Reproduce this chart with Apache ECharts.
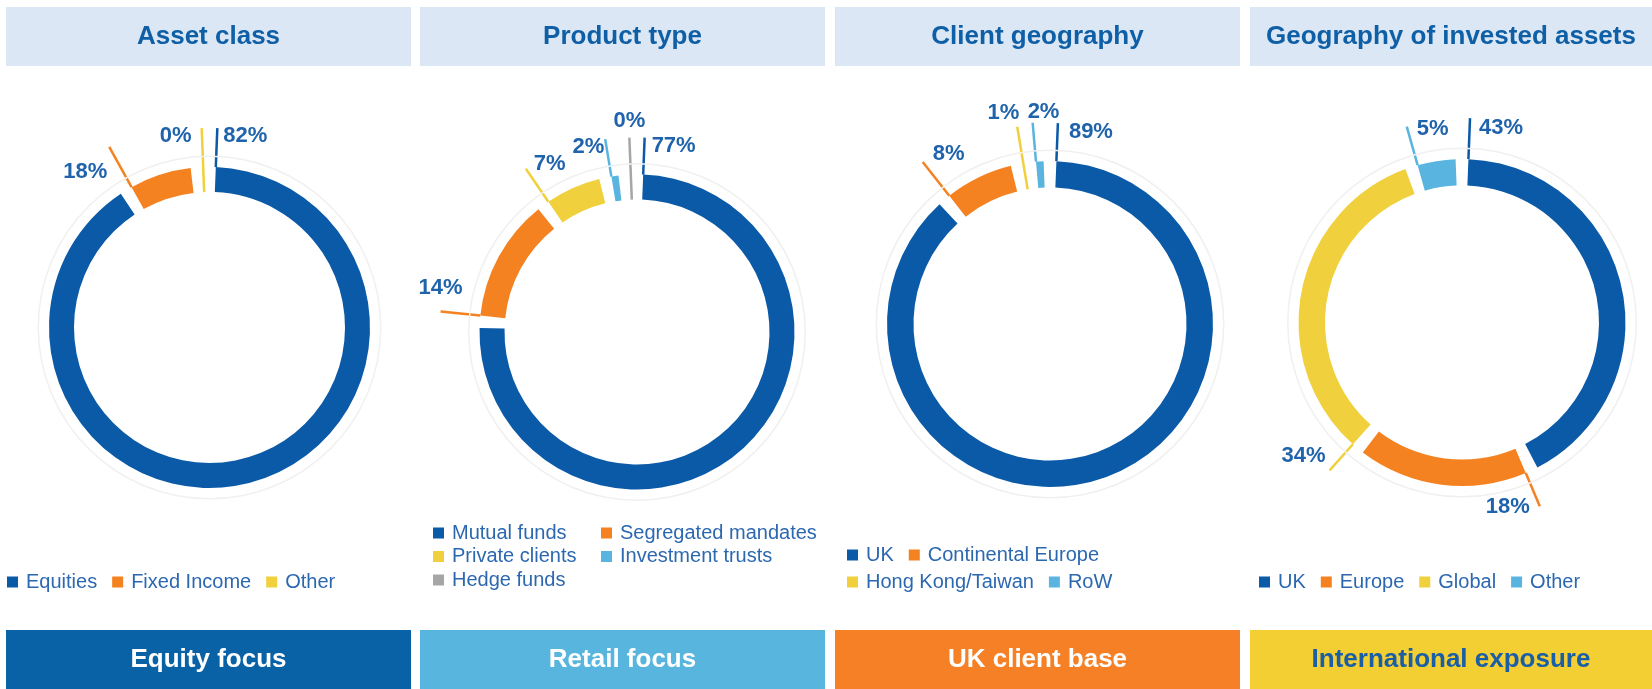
<!DOCTYPE html>
<html>
<head>
<meta charset="utf-8">
<title>Business overview</title>
<script src="https://cdn.jsdelivr.net/npm/echarts@6.0.0/dist/echarts.min.js"></script>
<style>
  html, body { margin: 0; padding: 0; background: #fff; }
  #main { width: 1652px; height: 689px; }
</style>
</head>
<body>
<div id="main"></div>
<script>
const assetNames = ['Equities', 'Fixed Income', 'Other'];
const assetShares = [92, 7.5, 0.5];
const assetLabels = ['82%', '18%', '0%'];

const productNames = ['Mutual funds', 'Segregated mandates', 'Private clients', 'Investment trusts', 'Hedge funds'];
const productShares = [77, 14, 7, 2, 0.3];
const productLabels = ['77%', '14%', '7%', '2%', '0%'];

const clientNames = ['UK', 'Continental Europe', 'Hong Kong/Taiwan', 'RoW'];
const clientShares = [89, 8, 1, 2];
const clientLabels = ['89%', '8%', '1%', '2%'];

const investNames = ['UK', 'Europe', 'Global', 'Other'];
const investShares = [43, 18, 34, 5];
const investLabels = ['43%', '18%', '34%', '5%'];

const panelTitles = ['Asset class', 'Product type', 'Client geography', 'Geography of invested assets'];
const footerTexts = ['Equity focus', 'Retail focus', 'UK client base', 'International exposure'];

// ---- colours ----
const BLUE = '#0b5aa7';
const ORANGE = '#f58220';
const YELLOW = '#f0d03c';
const LIGHTBLUE = '#5ab4e0';
const GREY = '#a6a6a6';
const LABEL = '#1f63ac';
const FONT = '"Liberation Sans", Arial, sans-serif';

// 每个面板的布局 (ring centre / radii / label placement)
const panels = [
  {
    names: assetNames, values: assetShares, labels: assetLabels,
    colors: [BLUE, ORANGE, YELLOW],
    center: [209.5, 327.5], radius: [135.5, 160.5],
    labelPos: [
      { len: 39, align: 'left', dx: 6, dy: 8 },
      { len: 46, align: 'right', dx: -2, dy: 25 },
      { len: 39, align: 'right', dx: -10, dy: 8 }
    ]
  },
  {
    names: productNames, values: productShares, labels: productLabels,
    colors: [BLUE, ORANGE, YELLOW, LIGHTBLUE, GREY],
    center: [637, 332], radius: [132.5, 157.5],
    labelPos: [
      { len: 37, align: 'left', dx: 7, dy: 8 },
      { len: 40, align: 'center', dx: 0, dy: -23 },
      { len: 40, align: 'left', dx: 8, dy: -5 },
      { len: 38, align: 'right', dx: -1, dy: 8 },
      { len: 37, align: 'center', dx: 0, dy: -17 }
    ]
  },
  {
    names: clientNames, values: clientShares, labels: clientLabels,
    colors: [BLUE, ORANGE, YELLOW, LIGHTBLUE],
    center: [1050, 324], radius: [136.5, 163],
    labelPos: [
      { len: 38, align: 'left', dx: 11, dy: 8.5 },
      { len: 43, align: 'left', dx: 10, dy: -8.5 },
      { len: 37, align: 'right', dx: 2, dy: -14 },
      { len: 39, align: 'left', dx: -5, dy: -11 }
    ]
  },
  {
    names: investNames, values: investShares, labels: investLabels,
    colors: [BLUE, ORANGE, YELLOW, LIGHTBLUE],
    center: [1462, 322.5], radius: [137, 163.5],
    labelPos: [
      { len: 41, align: 'left', dx: 9, dy: 9.5 },
      { len: 36, align: 'right', dx: -10, dy: 1 },
      { len: 35, align: 'right', dx: -4, dy: -14 },
      { len: 40, align: 'left', dx: 10, dy: 2 }
    ]
  }
];

const boxX = [6, 420, 835, 1250];
const boxW = [405, 405, 405, 402];
const footerColors = ['#0a62a6', '#58b6de', '#f58025', '#f4cf34'];
const footerTextColors = ['#ffffff', '#ffffff', '#ffffff', '#1a5ea5'];

const chart = echarts.init(document.getElementById('main'));

// leader line drawn from the start edge of each slice (thin slices run through the ring)
function startLine(panel) {
  return function (params) {
    const data = chart.getModel().getSeriesByIndex(params.seriesIndex).getData();
    const lay = data.getItemLayout(params.dataIndex);
    const spec = panel.labelPos[params.dataIndex];
    const thin = Math.abs(lay.endAngle - lay.startAngle) < 1e-4;
    const a = lay.startAngle;
    const rFrom = thin ? lay.r0 : lay.r;
    const rTo = lay.r + spec.len;
    const x0 = lay.cx + rFrom * Math.cos(a);
    const y0 = lay.cy + rFrom * Math.sin(a);
    const x1 = lay.cx + rTo * Math.cos(a);
    const y1 = lay.cy + rTo * Math.sin(a);
    return {
      x: x1 + spec.dx,
      y: y1 + spec.dy,
      align: spec.align,
      verticalAlign: 'middle',
      labelLinePoints: [[x0, y0], [x1, y1]]
    };
  };
}

const series = [];
panels.forEach(function (p, k) {
  // faint halo around the ring
  series.push({
    type: 'pie',
    name: 'halo' + k,
    silent: true,
    center: p.center,
    radius: [p.radius[1] + 10, p.radius[1] + 11.5],
    label: { show: false },
    labelLine: { show: false },
    itemStyle: { color: '#f0f0f0' },
    data: [{ name: 'halo' + k, value: 1 }]
  });
  series.push({
    type: 'pie',
    name: panelTitles[k],
    center: p.center,
    radius: p.radius,
    startAngle: 90,
    clockwise: true,
    padAngle: 4.5,
    avoidLabelOverlap: false,
    emphasis: { disabled: true },
    label: {
      show: true,
      position: 'outside',
      formatter: function (d) { return p.labels[d.dataIndex]; },
      fontFamily: FONT,
      fontSize: 22,
      fontWeight: 'bold',
      color: LABEL
    },
    labelLine: { show: true, length: 10, length2: 0, lineStyle: { width: 2.5 } },
    labelLayout: startLine(p),
    data: p.names.map(function (n, i) {
      return { name: n, value: p.values[i], itemStyle: { color: p.colors[i] } };
    })
  });
});

// legends (explicit colours since some names repeat across panels)
function legendData(p, idx) {
  return idx.map(function (i) {
    return { name: p.names[i], icon: 'rect', itemStyle: { color: p.colors[i] } };
  });
}
const legendBase = {
  selectedMode: false,
  padding: 0,
  itemWidth: 11,
  itemHeight: 11,
  itemGap: 15,
  textStyle: {
    fontFamily: FONT,
    fontSize: 20,
    color: '#2c68b0',
    lineHeight: 22,
    padding: [0, 0, 0, 3]
  }
};
const legends = [
  Object.assign({}, legendBase, { left: 7, top: 571, data: legendData(panels[0], [0, 1, 2]) }),
  Object.assign({}, legendBase, { left: 433, top: 522, orient: 'vertical', itemGap: 1.5, data: legendData(panels[1], [0, 2, 4]) }),
  Object.assign({}, legendBase, { left: 601, top: 522, orient: 'vertical', itemGap: 1.5, data: legendData(panels[1], [1, 3]) }),
  Object.assign({}, legendBase, { left: 847, top: 544, data: legendData(panels[2], [0, 1]) }),
  Object.assign({}, legendBase, { left: 847, top: 571, data: legendData(panels[2], [2, 3]) }),
  Object.assign({}, legendBase, { left: 1259, top: 571, data: legendData(panels[3], [0, 1, 2, 3]) })
];

// header and footer boxes
const graphics = [];
boxX.forEach(function (x, k) {
  const cx = x + boxW[k] / 2;
  graphics.push({
    type: 'rect', z: 0, silent: true,
    shape: { x: x, y: 7, width: boxW[k], height: 59 },
    style: { fill: '#dbe7f4' }
  });
  graphics.push({
    type: 'text', z: 1, silent: true, x: cx, y: 37,
    style: {
      text: panelTitles[k], align: 'center', verticalAlign: 'middle',
      fontFamily: FONT, fontSize: 26, fontWeight: 'bold', fill: '#0f5fa6'
    }
  });
  graphics.push({
    type: 'rect', z: 0, silent: true,
    shape: { x: x, y: 630, width: boxW[k], height: 59 },
    style: { fill: footerColors[k] }
  });
  graphics.push({
    type: 'text', z: 1, silent: true, x: cx, y: 660,
    style: {
      text: footerTexts[k], align: 'center', verticalAlign: 'middle',
      fontFamily: FONT, fontSize: 26, fontWeight: 'bold', fill: footerTextColors[k]
    }
  });
});

chart.setOption({
  animation: false,
  backgroundColor: '#ffffff',
  legend: legends,
  graphic: graphics,
  series: series
});
</script>
</body>
</html>
